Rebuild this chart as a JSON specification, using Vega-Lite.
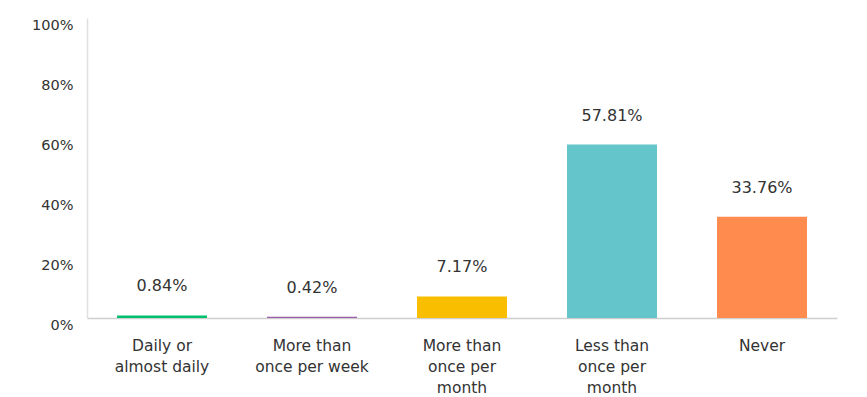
{
  "$schema": "https://vega.github.io/schema/vega-lite/v6.json",
  "autosize": {"type": "none"},
  "padding": {"left": 87, "top": 18, "right": 30, "bottom": 79},
  "width": 750,
  "height": 300,
  "background": "white",
  "data": {
    "values": [
      {"answer": "Daily or|almost daily", "share": 0.0084},
      {"answer": "More than|once per week", "share": 0.0042},
      {"answer": "More than|once per|month", "share": 0.0717},
      {"answer": "Less than|once per|month", "share": 0.5781},
      {"answer": "Never", "share": 0.3376}
    ]
  },
  "config": {
    "view": {"stroke": null},
    "font": "DejaVu Sans"
  },
  "encoding": {
    "x": {
      "field": "answer",
      "type": "nominal",
      "sort": null,
      "scale": {"paddingInner": 0.4, "paddingOuter": 0.2},
      "axis": {
        "title": null,
        "labelAngle": 0,
        "labelExpr": "split(datum.label, '|')",
        "labelFontSize": 15.5,
        "labelColor": "#333333",
        "labelLineHeight": 21,
        "labelPadding": 20,
        "labelBaseline": "top",
        "labelOverlap": false,
        "ticks": false,
        "domainColor": "#cfcfcf",
        "domainWidth": 1.5,
        "labelLimit": 200
      }
    },
    "y": {
      "field": "share",
      "type": "quantitative",
      "scale": {"domain": [0, 1]},
      "axis": {
        "title": null,
        "format": ".0%",
        "values": [0, 0.2, 0.4, 0.6, 0.8, 1],
        "grid": false,
        "ticks": false,
        "labelOverlap": false,
        "labelFontSize": 14.5,
        "labelColor": "#333333",
        "labelBaseline": "top",
        "labelPadding": 14,
        "domainColor": "#e0e0e0",
        "domainWidth": 1.5
      }
    }
  },
  "layer": [
    {
      "mark": {"type": "bar"},
      "encoding": {
        "color": {
          "field": "answer",
          "type": "nominal",
          "sort": null,
          "legend": null,
          "scale": {"range": ["#00BF6F", "#9D5CA9", "#F9BE00", "#64C6CA", "#FF8B4F"]}
        }
      }
    },
    {
      "mark": {"type": "text", "baseline": "bottom", "dy": -21, "fontSize": 16, "color": "#333333"},
      "encoding": {
        "text": {"field": "share", "type": "quantitative", "format": ".2%"}
      }
    }
  ]
}
